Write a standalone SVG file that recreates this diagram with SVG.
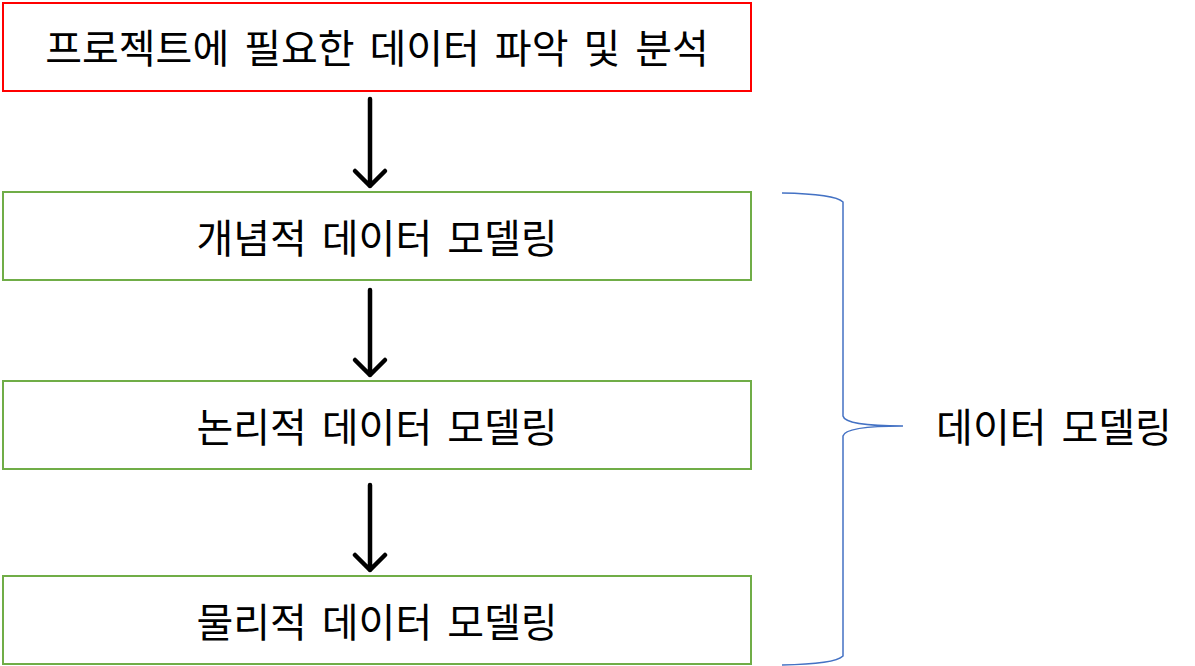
<svg xmlns="http://www.w3.org/2000/svg" width="1195" height="666" viewBox="0 0 1195 666">
<style>
.box{fill:#fff;stroke-width:2}
.red{stroke:#ff0000}
.green{stroke:#70ad47}
.t{font-family:"Noto Sans CJK KR","Noto Sans",sans-serif;font-size:40px;fill:#000;text-anchor:middle;dominant-baseline:central;word-spacing:6px}
.arr{stroke:#000;stroke-width:4.5;fill:none;stroke-linecap:round;stroke-linejoin:round}
.brace{stroke:#4472c4;stroke-width:1.5;fill:none}
</style>
<rect width="1195" height="666" fill="#fff"/>
<g id="node-analysis">
<rect class="box red" x="3" y="3" width="748" height="88"/>
<text class="t" x="377" y="46">프로젝트에 필요한 데이터 파악 및 분석</text>
</g>
<g id="node-conceptual">
<rect class="box green" x="3" y="192" width="748" height="88"/>
<text class="t" x="377" y="236">개념적 데이터 모델링</text>
</g>
<g id="node-logical">
<rect class="box green" x="3" y="381" width="748" height="88"/>
<text class="t" x="377" y="425">논리적 데이터 모델링</text>
</g>
<g id="node-physical">
<rect class="box green" x="3" y="576" width="748" height="88"/>
<text class="t" x="377" y="620">물리적 데이터 모델링</text>
</g>
<g id="node-brace-label">
<text class="t" x="1054" y="425">데이터 모델링</text>
</g>
<g id="connectors">
<path class="arr" d="M370 99 V186 M355 171 L370 186 L385 171"/>
<path class="arr" d="M370 290 V375 M355 360 L370 375 L385 360"/>
<path class="arr" d="M370 485 V570 M355 555 L370 570 L385 555"/>
<path class="brace" d="M782 193 Q835 194 843 202 V416 Q845 426 903 426 Q845 426 843 436 V656 Q835 664 782 665"/>
</g>
</svg>
